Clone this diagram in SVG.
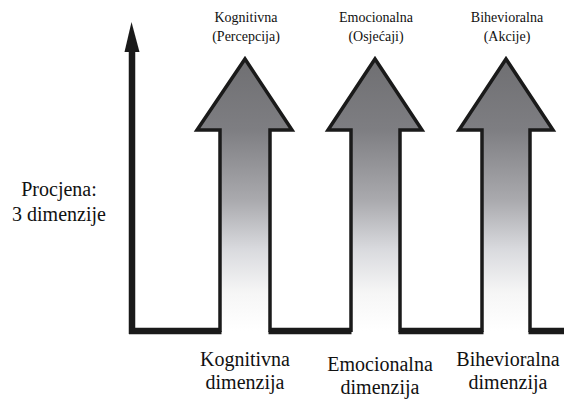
<svg xmlns="http://www.w3.org/2000/svg" width="564" height="400" viewBox="0 0 564 400">
  <defs>
    <!-- grey that fades to white down the shaft -->
    <linearGradient id="fade" gradientUnits="userSpaceOnUse" x1="0" y1="59" x2="0" y2="331">
      <stop offset="0" stop-color="#6f6f72"/>
      <stop offset="0.26" stop-color="#7e7e82"/>
      <stop offset="0.52" stop-color="#aaaaae"/>
      <stop offset="0.70" stop-color="#d9dade"/>
      <stop offset="0.86" stop-color="#f6f6f6"/>
      <stop offset="1" stop-color="#ffffff"/>
    </linearGradient>
  </defs>
  <style>
    .arrow-fill { fill: url(#fade); stroke: none; }
    .arrow-line { fill: none; stroke: #1a1a1a; stroke-width: 3.5; stroke-linejoin: miter; }
    .base { fill: none; stroke: #1a1a1a; stroke-width: 6.5; stroke-linecap: butt; }
    .head { fill: #1a1a1a; stroke: none; }
    .lbl-top { font-size: 14px; fill: #111; text-anchor: middle; }
    .lbl { font-size: 20px; fill: #111; text-anchor: middle; }
  </style>

  <rect width="564" height="400" fill="#ffffff"/>

  <!-- axis and base line between the arrows -->
  <g id="connectors">
    <line class="base" x1="132" y1="334" x2="132" y2="50"/>
    <polygon class="head" points="131.5,22 139.5,52 124.5,52"/>
    <path class="base" d="M129 331 H221.5"/>
    <path class="base" d="M268.5 331 H351.5"/>
    <path class="base" d="M398.5 331 H483.5"/>
    <path class="base" d="M528.5 331 H564"/>
  </g>

  <g id="axis-label" font-family="Liberation Serif, Times New Roman, serif">
    <text class="lbl" x="59" y="196">Procjena:</text>
    <text class="lbl" x="59" y="221">3 dimenzije</text>
  </g>

  <g id="arrow-kognitivna" font-family="Liberation Serif, Times New Roman, serif">
    <polygon class="arrow-fill" points="220,331 220,130 197,130 245,59 292,130 270,130 270,331"/>
    <path class="arrow-line" d="M220 332 V130 H197 L245 59 L292 130 H270 V332"/>
    <text class="lbl-top" x="246" y="22">Kognitivna</text>
    <text class="lbl-top" x="246" y="41">(Percepcija)</text>
    <text class="lbl" x="245" y="366">Kognitivna</text>
    <text class="lbl" x="245" y="389">dimenzija</text>
  </g>

  <g id="arrow-emocionalna" font-family="Liberation Serif, Times New Roman, serif">
    <polygon class="arrow-fill" points="351,331 351,130 328,130 375,59 422,130 400,130 400,331"/>
    <path class="arrow-line" d="M351 332 V130 H328 L375 59 L422 130 H400 V332"/>
    <text class="lbl-top" x="376" y="22">Emocionalna</text>
    <text class="lbl-top" x="376" y="41">(Osjećaji)</text>
    <text class="lbl" x="380" y="371">Emocionalna</text>
    <text class="lbl" x="380" y="394">dimenzija</text>
  </g>

  <g id="arrow-bihevioralna" font-family="Liberation Serif, Times New Roman, serif">
    <polygon class="arrow-fill" points="482,331 482,130 459,130 506,59 553,130 530,130 530,331"/>
    <path class="arrow-line" d="M482 332 V130 H459 L506 59 L553 130 H530 V332"/>
    <text class="lbl-top" x="507" y="22">Bihevioralna</text>
    <text class="lbl-top" x="507" y="41">(Akcije)</text>
    <text class="lbl" x="508" y="366">Bihevioralna</text>
    <text class="lbl" x="508" y="389">dimenzija</text>
  </g>
</svg>
